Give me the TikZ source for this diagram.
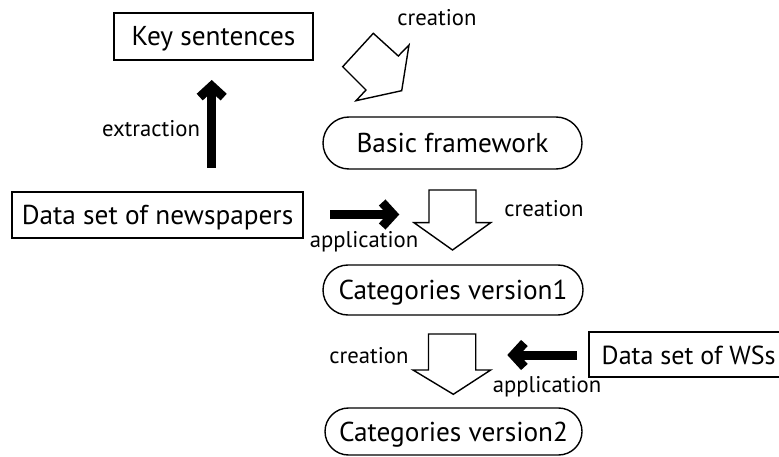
\documentclass[tikz,border=0pt]{standalone}
\usepackage{fontspec}
\setmainfont{PT Sans}
\usetikzlibrary{arrows.meta}
\tikzset{
  mainfont/.style={font=\fontsize{27.3}{30}\selectfont, text height=20pt, text depth=1pt},
  box/.style={draw, line width=1.4pt, inner sep=0pt, mainfont},
  boxline/.style={draw, line width=1.4pt},
  stadium/.style={draw, line width=1.4pt, inner sep=0pt, mainfont},
  lbl/.style={font=\fontsize{22.7}{25}\selectfont, inner sep=0pt, anchor=base},
  barrow/.style={line width=9pt, line cap=butt, line join=miter, -{Straight Barb[length=11pt, width=24pt, line join=miter]}},
  hollow/.style={draw, line width=1.4pt, line join=miter, fill=white},
}
\begin{document}
\begin{tikzpicture}[x=1pt,y=-1pt]
\clip (0,0) rectangle (779,457);
% rectangular boxes
\node[box, minimum width=199pt, minimum height=47pt] (key) at (213.5,36.5) {Key sentences};
\node[box, minimum width=291pt, minimum height=46pt] (news) at (157.5,215) {Data set of newspapers};
\node[inner sep=0pt, anchor=base west, font=\fontsize{27.3}{30}\selectfont] (ws) at (601.5,364) {\resizebox{174pt}{!}{Data set of WSs}};
\draw[boxline] (589,332) rectangle (800,377);
% stadium nodes
\node[stadium, minimum width=259pt, minimum height=52pt, rounded corners=26pt] (basic) at (452.5,143) {Basic framework};
\node[stadium, minimum width=260pt, minimum height=50pt, rounded corners=25pt] (cat1) at (453,290) {Categories version1};
\node[stadium, minimum width=257pt, minimum height=47pt, rounded corners=23.5pt] (cat2) at (453.5,431.5) {Categories version2};
% black arrows
\coordinate (ex0) at (211.7,168);
\coordinate (ex1) at (211.7,80);
\draw[barrow] (ex0) -- (ex1);
\coordinate (ap0) at (330,214.5);
\coordinate (ap1) at (399.3,214.5);
\draw[barrow] (ap0) -- (ap1);
\coordinate (aq0) at (576.7,355);
\coordinate (aq1) at (507.3,355);
\draw[barrow] (aq0) -- (aq1);
% hollow arrows
\draw[hollow] (373.3,33.3) -- (398.3,56) -- (409,45) -- (401.7,90.7) -- (356,100.7) -- (366,90) -- (342.7,66.7) -- cycle;
\draw[hollow] (429,190) -- (476,190) -- (476,222.7) -- (490.7,222.7) -- (452.5,250) -- (414,222.7) -- (429,222.7) -- cycle;
\draw[hollow] (428.5,334) -- (475.7,334) -- (475.7,370) -- (490.7,370) -- (453.3,394.3) -- (413,370) -- (428.5,370) -- cycle;
% labels
\node[lbl] (l1) at (437,26) {creation};
\node[lbl] (l2) at (151,136.7) {extraction};
\node[lbl] (l3) at (364,247.7) {application};
\node[lbl] (l4) at (544,216.7) {creation};
\node[lbl] (l5) at (369,363.3) {creation};
\node[lbl] (l6) at (547,392.7) {application};
\end{tikzpicture}
\end{document}
